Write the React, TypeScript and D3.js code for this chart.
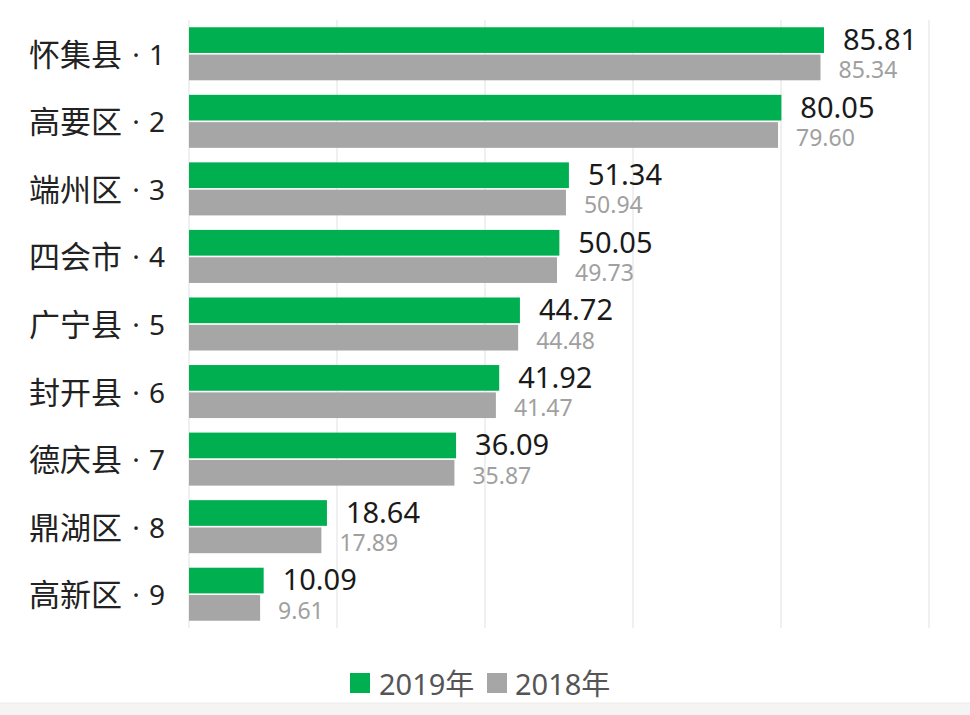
import React from "react";
import * as d3 from "d3";

const categories = ["怀集县 · 1", "高要区 · 2", "端州区 · 3", "四会市 · 4", "广宁县 · 5", "封开县 · 6", "德庆县 · 7", "鼎湖区 · 8", "高新区 · 9"];
const values2019 = [85.81, 80.05, 51.34, 50.05, 44.72, 41.92, 36.09, 18.64, 10.09];
const values2018 = [85.34, 79.6, 50.94, 49.73, 44.48, 41.47, 35.87, 17.89, 9.61];
const seriesNames = ["2019年", "2018年"];
const gridTicks = [0, 20, 40, 60, 80, 100];

const GREEN = "#00b050";
const GRAY = "#a6a6a6";
const FONT = "'Noto Sans', 'Noto Sans CJK SC', sans-serif";

export default function App() {
  const W = 970, H = 715;
  const x = d3.scaleLinear().domain([0, 100]).range([189, 929]);
  const y = d3.scaleBand<string>().domain(categories).range([20, 628]).paddingInner(0.215).paddingOuter(0.1075);
  const inner = d3.scaleBand<string>().domain(seriesNames).range([0, y.bandwidth()]).paddingInner(0.06);

  return (
    <svg width={W} height={H} style={{ position: "absolute", left: 0, top: 0, display: "block", background: "#fff" }} fontFamily={FONT}>
      <rect x={0} y={0} width={W} height={H} fill="#ffffff" />
      {gridTicks.map((t) => (
        <line key={t} x1={x(t)} x2={x(t)} y1={20} y2={628} stroke="#e6e6e6" strokeWidth={1.2} />
      ))}
      {categories.map((c, i) => {
        const y0 = y(c)!;
        const yg = y0 + inner(seriesNames[0])!;
        const yr = y0 + inner(seriesNames[1])!;
        const bh = inner.bandwidth();
        const [name, rank] = c.split(" · ");
        const cy = y0 + y.bandwidth() / 2;
        return (
          <g key={c}>
            <rect x={x(0)} y={yg} width={x(values2019[i]) - x(0)} height={bh} fill={GREEN} />
            <rect x={x(0)} y={yr} width={x(values2018[i]) - x(0)} height={bh} fill={GRAY} />
            <text x={x(values2019[i]) + 19} y={yg + bh - 3} fontSize={29} fill="#1a1a1a">
              {values2019[i].toFixed(2)}
            </text>
            <text x={x(values2018[i]) + 18} y={yr + bh - 2} fontSize={23} fill="#a0a0a0">
              {values2018[i].toFixed(2)}
            </text>
            <text y={cy} fontSize={31} fill="#222" dominantBaseline="central">
              <tspan x={122} textAnchor="end">{name}</tspan>
              <tspan x={136} textAnchor="middle" fontSize={28}>·</tspan>
              <tspan x={149} textAnchor="start" fontSize={28}>{rank}</tspan>
            </text>
          </g>
        );
      })}
      <g>
        <rect x={350} y={673} width={20} height={20} fill={GREEN} />
        <text x={379} y={695} fontSize={29} fill="#555">{seriesNames[0]}</text>
        <rect x={487} y={673} width={20} height={20} fill={GRAY} />
        <text x={515} y={695} fontSize={29} fill="#555">{seriesNames[1]}</text>
      </g>
      <rect x={0} y={703} width={W} height={12} fill="#f4f4f4" />
      <line x1={0} x2={W} y1={703} y2={703} stroke="#ececec" />
    </svg>
  );
}
